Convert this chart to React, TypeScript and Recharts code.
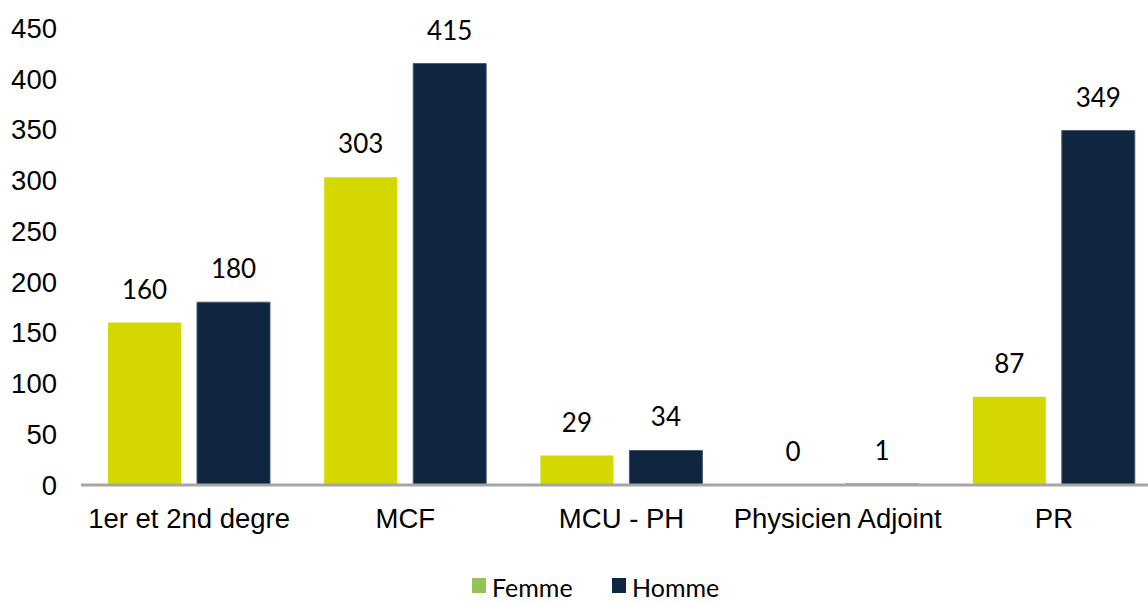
import { BarChart, XAxis, YAxis, Bar, LabelList } from "recharts";

const categories = ["1er et 2nd degre", "MCF", "MCU - PH", "Physicien Adjoint", "PR"];
const femme = [160, 303, 29, 0, 87];
const homme = [180, 415, 34, 1, 349];
const yTicks = [0, 50, 100, 150, 200, 250, 300, 350, 400, 450];

const data = categories.map((name, i) => ({
  name,
  Femme: femme[i],
  Homme: homme[i],
}));

const axisFont = { fontFamily: "'Liberation Sans', Arial, sans-serif", fontSize: 27.5, fill: "#000" };

// value labels above each bar (also drawn for 0)
const TopLabel = (props: any) => {
  const { x, y, width, height, value } = props;
  if (value === undefined || value === null) return null;
  const top = Math.min(Number(y), Number(y) + Number(height || 0));
  return (
    <text
      x={Number(x) + Number(width) / 2}
      y={top - 24}
      textAnchor="middle"
      fontFamily="Lato, sans-serif"
      fontSize={26}
      fill="#000"
    >
      {value}
    </text>
  );
};

const legendItems = [
  { label: "Femme", color: "#92C353", left: 472, textLeft: 492 },
  { label: "Homme", color: "#10253F", left: 612, textLeft: 632 },
];

const App = () => {
  return (
    <div
      style={{
        position: "fixed",
        left: 0,
        top: 0,
        width: 1148,
        height: 603,
        overflow: "hidden",
        background: "#fff",
      }}
    >
      <BarChart
        width={1170}
        height={603}
        data={data}
        margin={{ top: 28, right: 8, bottom: 0, left: 0 }}
        barSize={73}
        barGap={16}
      >
        <XAxis
          dataKey="name"
          axisLine={{ stroke: "#A6A6A6", strokeWidth: 3 }}
          tickLine={false}
          tickSize={0}
          tickMargin={23}
          height={118}
          interval={0}
          tick={axisFont}
        />
        <YAxis
          domain={[0, 450]}
          ticks={yTicks}
          width={81}
          axisLine={false}
          tickLine={false}
          tickSize={0}
          tickMargin={24}
          tick={axisFont}
        />
        <Bar dataKey="Femme" fill="#D4D700" minPointSize={0.01} isAnimationActive={false}>
          <LabelList dataKey="Femme" content={<TopLabel />} />
        </Bar>
        <Bar dataKey="Homme" fill="#10253F" stroke="#4A5A70" strokeWidth={1} isAnimationActive={false}>
          <LabelList dataKey="Homme" content={<TopLabel />} />
        </Bar>
      </BarChart>
      {legendItems.map((it) => (
        <div key={it.label}>
          <span
            style={{
              position: "absolute",
              left: it.left,
              top: 578,
              width: 14,
              height: 15,
              background: it.color,
            }}
          />
          <span
            style={{
              position: "absolute",
              left: it.textLeft,
              top: 572,
              fontFamily: "Lato, sans-serif",
              fontSize: 25,
              lineHeight: "30px",
              color: "#000",
              whiteSpace: "nowrap",
            }}
          >
            {it.label}
          </span>
        </div>
      ))}
    </div>
  );
};

export default App;
